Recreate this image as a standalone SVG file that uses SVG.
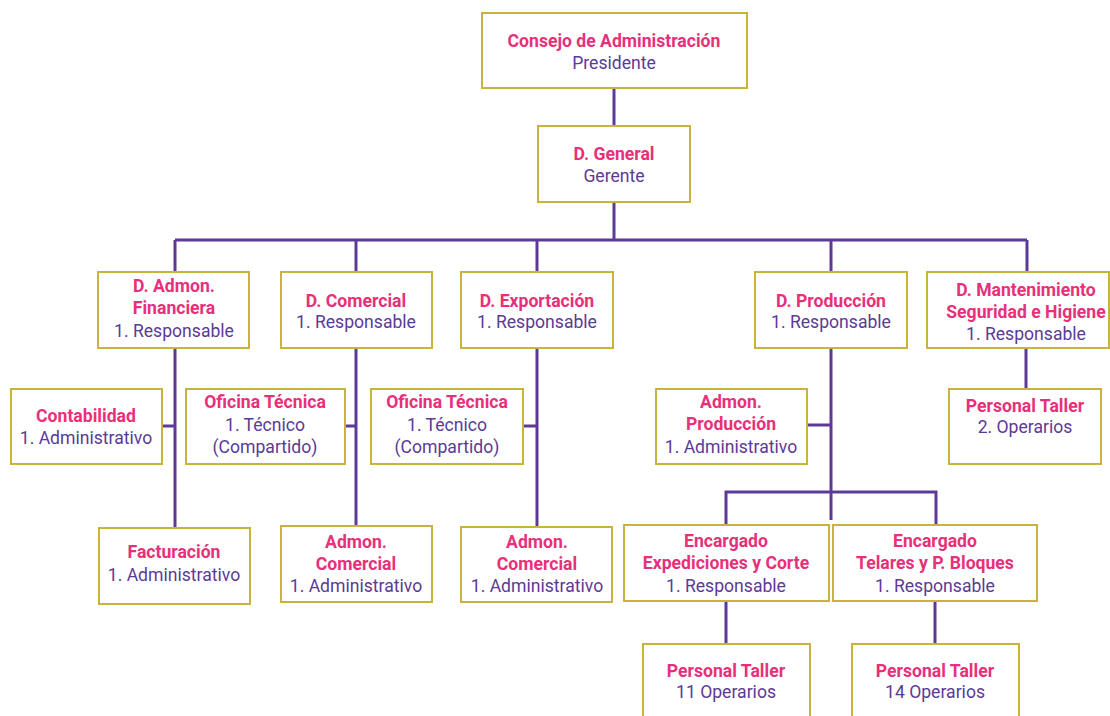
<svg xmlns="http://www.w3.org/2000/svg" width="1110" height="716" viewBox="0 0 1110 716">
<style>
.box{fill:#fff;stroke:#c9b43a;stroke-width:2}
.t{font-family:Roboto,"Liberation Sans",sans-serif;font-size:17.6px;text-anchor:middle}
.h{fill:#e8307a;font-weight:bold}
.s{fill:#5b3a96}
.c{fill:none;stroke:#5e3a98;stroke-width:3}
</style>
<rect width="1110" height="716" fill="#fff"/>
<g id="connectors" class="c">
<path d="M614 88V126"/>
<path d="M614 202V240"/>
<path d="M175 240H1027"/>
<path d="M175 240V272M356 240V272M537 240V272M831 240V272M1027 240V272"/>
<path d="M175 348V528M162 426H175"/>
<path d="M356 348V526M345 426H356"/>
<path d="M537 348V527M523 426H537"/>
<path d="M831 348V520M807 425H831"/>
<path d="M726 525V492H936V525"/>
<path d="M1026 348V389"/>
<path d="M726 601V644M935 601V644"/>
</g>
<g id="consejo"><rect class="box" x="482" y="13" width="265" height="75"/><text class="t h" x="614" y="47">Consejo de Administración</text><text class="t s" x="614" y="69">Presidente</text></g>
<g id="general"><rect class="box" x="538" y="126" width="152" height="76"/><text class="t h" x="614" y="160">D. General</text><text class="t s" x="614" y="182">Gerente</text></g>
<g id="financiera"><rect class="box" x="98" y="272" width="151" height="76"/><text class="t h" x="174" y="292">D. Admon.</text><text class="t h" x="174" y="314">Financiera</text><text class="t s" x="174" y="337">1. Responsable</text></g>
<g id="comercial"><rect class="box" x="281" y="272" width="151" height="76"/><text class="t h" x="356" y="307">D. Comercial</text><text class="t s" x="356" y="328">1. Responsable</text></g>
<g id="exportacion"><rect class="box" x="461" y="272" width="152" height="76"/><text class="t h" x="537" y="307">D. Exportación</text><text class="t s" x="537" y="328">1. Responsable</text></g>
<g id="produccion"><rect class="box" x="755" y="272" width="152" height="76"/><text class="t h" x="831" y="307">D. Producción</text><text class="t s" x="831" y="328">1. Responsable</text></g>
<g id="mantenimiento"><rect class="box" x="927" y="272" width="182" height="76"/><text class="t h" x="1026" y="296">D. Mantenimiento</text><text class="t h" x="1026" y="318">Seguridad e Higiene</text><text class="t s" x="1026" y="340">1. Responsable</text></g>
<g id="contabilidad"><rect class="box" x="11" y="389" width="151" height="75"/><text class="t h" x="86" y="422">Contabilidad</text><text class="t s" x="86" y="444">1. Administrativo</text></g>
<g id="oficina1"><rect class="box" x="186" y="389" width="159" height="75"/><text class="t h" x="265" y="408">Oficina Técnica</text><text class="t s" x="265" y="431">1. Técnico</text><text class="t s" x="265" y="453">(Compartido)</text></g>
<g id="oficina2"><rect class="box" x="371" y="389" width="152" height="75"/><text class="t h" x="447" y="408">Oficina Técnica</text><text class="t s" x="447" y="431">1. Técnico</text><text class="t s" x="447" y="453">(Compartido)</text></g>
<g id="admonprod"><rect class="box" x="656" y="389" width="151" height="75"/><text class="t h" x="731" y="408">Admon.</text><text class="t h" x="731" y="430">Producción</text><text class="t s" x="731" y="453">1. Administrativo</text></g>
<g id="taller2"><rect class="box" x="949" y="389" width="152" height="75"/><text class="t h" x="1025" y="412">Personal Taller</text><text class="t s" x="1025" y="433">2. Operarios</text></g>
<g id="facturacion"><rect class="box" x="99" y="528" width="151" height="76"/><text class="t h" x="174" y="558">Facturación</text><text class="t s" x="174" y="581">1. Administrativo</text></g>
<g id="admoncom1"><rect class="box" x="281" y="526" width="151" height="76"/><text class="t h" x="356" y="548">Admon.</text><text class="t h" x="356" y="570">Comercial</text><text class="t s" x="356" y="592">1. Administrativo</text></g>
<g id="admoncom2"><rect class="box" x="461" y="527" width="151" height="75"/><text class="t h" x="537" y="548">Admon.</text><text class="t h" x="537" y="570">Comercial</text><text class="t s" x="537" y="592">1. Administrativo</text></g>
<g id="expediciones"><rect class="box" x="624" y="525" width="205" height="76"/><text class="t h" x="726" y="547">Encargado</text><text class="t h" x="726" y="569">Expediciones y Corte</text><text class="t s" x="726" y="592">1. Responsable</text></g>
<g id="telares"><rect class="box" x="833" y="525" width="204" height="76"/><text class="t h" x="935" y="547">Encargado</text><text class="t h" x="935" y="569">Telares y P. Bloques</text><text class="t s" x="935" y="592">1. Responsable</text></g>
<g id="taller11"><rect class="box" x="643" y="644" width="167" height="80"/><text class="t h" x="726" y="677">Personal Taller</text><text class="t s" x="726" y="698">11 Operarios</text></g>
<g id="taller14"><rect class="box" x="852" y="644" width="167" height="80"/><text class="t h" x="935" y="677">Personal Taller</text><text class="t s" x="935" y="698">14 Operarios</text></g>
</svg>
